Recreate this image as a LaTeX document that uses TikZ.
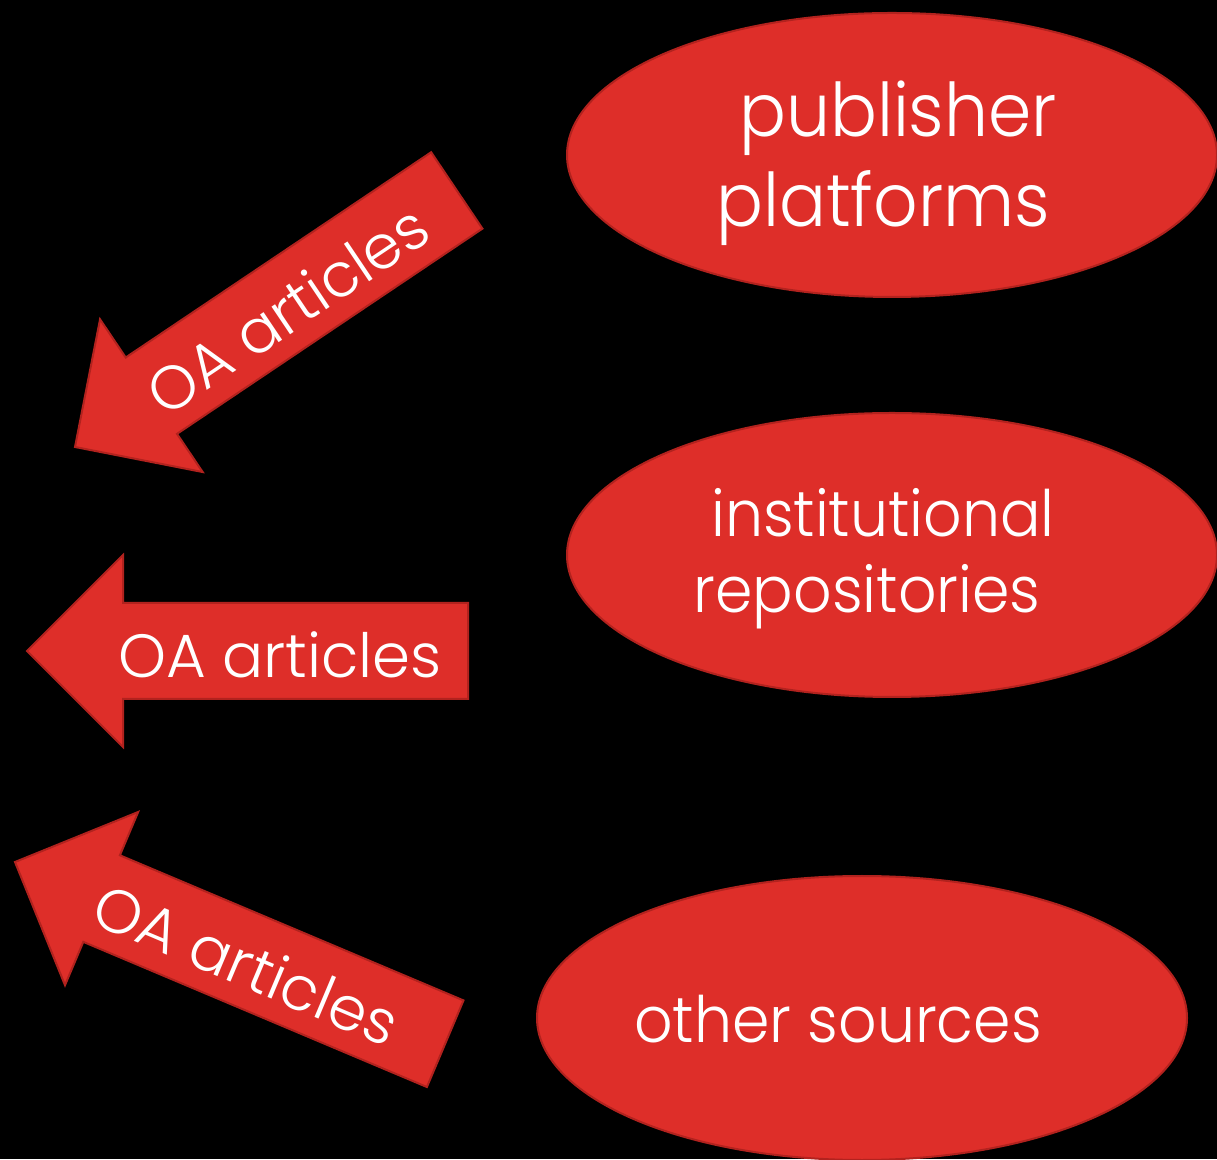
\documentclass[tikz,border=0pt]{standalone}
\usepackage{fontspec}
\setmainfont{Poppins Light}
\newfontfamily\srcfont{Poppins Light}[FakeStretch=0.94]
\usetikzlibrary{shapes.geometric}
\definecolor{oared}{RGB}{222,46,41}
\definecolor{oaedge}{RGB}{178,34,30}

\begin{document}
\begin{tikzpicture}[x=1pt,y=1pt,
    source/.style={ellipse,draw=oaedge,line width=2pt,fill=oared,
      minimum width=650pt,minimum height=284pt,inner sep=0pt},
    srctext/.style={text=white,inner sep=0pt,anchor=base},
    flow/.style={draw=oaedge,line width=2pt,fill=oared},
    flowtext/.style={text=white,transform shape,inner sep=0pt,
      font=\fontsize{61}{70}\selectfont}]

    % Background and page size
    \fill[black] (0,0) rectangle (1217,1159);
    \useasboundingbox (0,0) rectangle (1217,1159);

    % Place the sources
    \node[source] (pp) at (892,1004) {};
    \node[source] (ir) at (892,604) {};
    \node[source] (os) at (862,141) {};

    % Their texts, one node per line
    \node[srctext,font=\srcfont\fontsize{74}{80}\selectfont] (pp1) at (898,1022) {publisher};
    \node[srctext,font=\srcfont\fontsize{74}{80}\selectfont] (pp2) at (883,932) {platforms};
    \node[srctext,font=\srcfont\fontsize{64}{70}\selectfont] (ir1) at (883,622) {institutional};
    \node[srctext,font=\srcfont\fontsize{64}{70}\selectfont] (ir2) at (867,546) {repositories};
    \node[srctext,font=\srcfont\fontsize{64}{70}\selectfont] (os1) at (838,117) {other sources};

    % Draw the arrows, tip at the origin of each scope
    \begin{scope}[shift={(75,712)},rotate=33.9]
        \draw[flow] (0,0) -- (92,92) -- (92,46) -- (460,46) -- (460,-46) -- (92,-46) -- (92,-92) -- cycle;
        \node[flowtext] (a1) at (253,-4) {OA articles};
    \end{scope}

    \begin{scope}[shift={(27,508)}]
        \draw[flow] (0,0) -- (96,96) -- (96,48) -- (441,48) -- (441,-48) -- (96,-48) -- (96,-96) -- cycle;
        \node[flowtext] (a2) at (253,-4) {OA articles};
    \end{scope}

    \begin{scope}[shift={(15,297)},rotate=-22.9]
        \draw[flow] (0,0) -- (94,94) -- (94,47) -- (467,47) -- (467,-47) -- (94,-47) -- (94,-94) -- cycle;
        \node[flowtext] (a3) at (253,-4) {OA articles};
    \end{scope}

\end{tikzpicture}
\end{document}
